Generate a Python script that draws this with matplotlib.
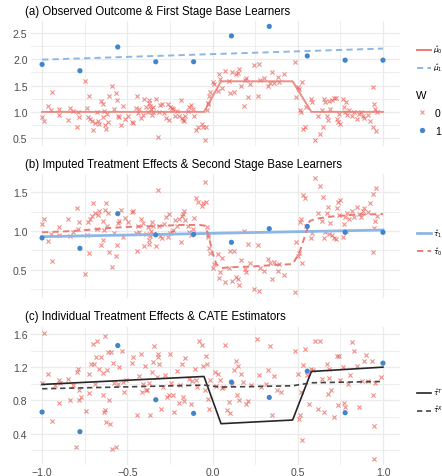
import numpy as np
import matplotlib
matplotlib.use('Agg')
import matplotlib.pyplot as plt
from matplotlib.lines import Line2D
from matplotlib.ticker import MultipleLocator

plt.rcParams['font.family'] = ['Liberation Sans', 'DejaVu Sans']
plt.rcParams['mathtext.fontset'] = 'dejavusans'

# ---------------- data ----------------
x_treated = [-1.0, -0.778, -0.556, -0.333, -0.111, 0.111, 0.333, 0.556, 0.778, 1.0]
y_treated = [1.90, 1.78, 2.23, 1.95, 1.95, 2.44, 2.62, 2.06, 1.98, 1.98]

x_control_a = [-1.00, -0.99, -0.967, -0.947, -0.943, -0.902, -0.898, -0.849, -0.839, -0.816,
               -0.797, -0.787, -0.785, -0.750, -0.738, -0.726, -0.732, -0.718, -0.707, -0.703,
               -0.687, -0.679, -0.674, -0.664, -0.654, -0.644, -0.640, -0.634, -0.629, -0.625,
               -0.621, -0.615, -0.605, -0.589, -0.576, -0.566, -0.562, -0.554, -0.546, -0.537,
               -0.527, -0.511, -0.498, -0.472, -0.464, -0.449, -0.445, -0.439, -0.429, -0.419,
               -0.410, -0.400, -0.390, -0.380, -0.374, -0.370, -0.367, -0.361, -0.355, -0.351,
               -0.347, -0.331, -0.318, -0.312, -0.306, -0.298, -0.286, -0.273, -0.263, -0.253,
               -0.249, -0.238, -0.230, -0.218, -0.208, -0.198, -0.185, -0.179, -0.175, -0.169,
               -0.159, -0.146, -0.136, -0.126, -0.116, -0.107, -0.097, -0.083, -0.062, -0.054,
               -0.042, -0.038, -0.034, -0.028, -0.024, -0.019, -0.013, 0.001, 0.011, 0.030,
               0.036, 0.044, 0.056, 0.075, 0.095, 0.103, 0.114, 0.128, 0.138, 0.147,
               0.157, 0.167, 0.183, 0.191, 0.196, 0.206, 0.220, 0.243, 0.271, 0.265,
               0.281, 0.304, 0.324, 0.337, 0.349, 0.359, 0.384, 0.392, 0.421, 0.484,
               0.490, 0.503, 0.509, 0.515, 0.519, 0.523, 0.533, 0.544, 0.548, 0.578,
               0.584, 0.603, 0.617, 0.630, 0.640, 0.646, 0.656, 0.662, 0.670, 0.676,
               0.685, 0.691, 0.699, 0.711, 0.725, 0.728, 0.734, 0.744, 0.750, 0.763,
               0.769, 0.777, 0.783, 0.789, 0.803, 0.818, 0.832, 0.848, 0.861, 0.871,
               0.881, 0.891, 0.910, 0.924, 0.939, 0.939, 0.949, 0.953, 0.959, 0.965]
y_control = [0.90, 0.83, 1.12, 1.04, 1.38, 1.05, 0.95, 0.85, 1.07, 1.02,
             0.71, 0.99, 0.90, 1.58, 1.07, 1.31, 0.90, 0.87, 0.82, 0.66,
             0.79, 1.00, 0.82, 0.77, 1.21, 0.90, 1.15, 1.02, 0.75, 0.67,
             0.96, 0.80, 1.31, 1.50, 1.06, 1.36, 1.22, 0.93, 0.91, 0.76,
             1.12, 0.87, 0.93, 0.80, 0.79, 1.08, 1.31, 0.98, 1.06, 0.89,
             0.95, 1.25, 1.09, 1.00, 1.22, 1.17, 1.12, 1.06, 0.94, 1.10,
             1.00, 1.25, 0.53, 1.00, 1.13, 1.15, 0.98, 0.88, 1.15, 0.85,
             1.10, 1.08, 1.06, 0.93, 1.01, 0.92, 1.22, 0.88, 0.85, 0.82,
             0.93, 1.02, 1.09, 1.13, 1.06, 0.92, 0.66, 0.71, 0.77, 0.72,
             0.46, 0.71, 1.04, 1.15, 1.17, 1.31, 1.38, 1.57, 1.53, 1.40,
             1.71, 1.63, 1.45, 1.77, 1.59, 1.36, 1.75, 1.37, 1.71, 1.74,
             1.81, 1.49, 1.11, 1.61, 1.65, 1.28, 1.53, 1.88, 1.90, 1.31,
             1.60, 1.64, 1.49, 1.54, 1.75, 1.54, 1.66, 1.57, 1.71, 1.94,
             1.29, 1.47, 1.43, 1.03, 1.00, 1.57, 0.68, 0.72, 1.09, 1.25,
             1.18, 0.47, 0.93, 0.58, 1.03, 0.72, 1.25, 1.18, 0.93, 0.85,
             1.20, 1.06, 1.22, 1.26, 1.27, 0.87, 0.80, 0.96, 0.77, 1.25,
             1.09, 1.00, 1.18, 0.94, 1.03, 0.92, 1.00, 0.87, 0.96, 1.00,
             0.93, 0.89, 0.94, 0.83, 1.47, 0.71, 1.15, 1.06, 0.64, 1.00]

mu0_x = [-1.0, -0.05, 0.05, 0.47, 0.58, 1.0]
mu0_y = [1.0, 1.0, 1.58, 1.58, 1.0, 1.0]
mu1_x = [-1.0, 1.0]
mu1_y = [1.99, 2.20]

# panel (b): imputed treatment effects
tau1_imputed = [0.91, 0.775, 1.225, 0.95, 0.957, 0.853, 1.03, 1.06, 0.983, 0.983]
# imputed effect of controls = mu1_hat(x) - Y(0)
tau0_imputed = np.interp(x_control_a, mu1_x, mu1_y) - np.array(y_control)
tau1_x = [-1.0, 1.0]
tau1_y = [0.926, 1.013]
tau0_x = [-1.0, -0.857, -0.74, -0.6, -0.466, -0.33, -0.19, -0.075, -0.046, -0.026,
          0.003, 0.022, 0.052, 0.12, 0.24, 0.374, 0.47, 0.51, 0.54, 0.57, 0.61, 0.707, 0.824, 1.0]
tau0_y = [0.983, 0.996, 1.013, 1.04, 1.056, 1.065, 1.078, 1.078, 1.07, 0.96,
          0.70, 0.57, 0.52, 0.53, 0.54, 0.56, 0.57, 0.72, 0.92, 1.13, 1.16, 1.19, 1.21, 1.22]

# panel (c): individual treatment effects
ite_treated = [0.66, 0.424, 1.46, 0.808, 0.644, 1.02, 0.836, 1.152, 0.652, 1.248]
x_control_c = [-1.001, -0.99, -0.967, -0.943, -0.927, -0.902, -0.898, -0.892, -0.849, -0.836,
               -0.816, -0.797, -0.787, -0.785, -0.781, -0.801, -0.771, -0.742, -0.726, -0.722,
               -0.711, -0.703, -0.693, -0.687, -0.683, -0.679, -0.668, -0.654, -0.644, -0.640,
               -0.634, -0.630, -0.629, -0.625, -0.621, -0.615, -0.605, -0.599, -0.593, -0.589,
               -0.581, -0.576, -0.566, -0.556, -0.546, -0.534, -0.527, -0.517, -0.507, -0.472,
               -0.464, -0.445, -0.429, -0.419, -0.413, -0.406, -0.396, -0.390, -0.384, -0.370,
               -0.365, -0.355, -0.347, -0.341, -0.327, -0.321, -0.318, -0.312, -0.302, -0.292,
               -0.276, -0.269, -0.257, -0.249, -0.241, -0.234, -0.224, -0.210, -0.198, -0.190,
               -0.181, -0.175, -0.165, -0.159, -0.140, -0.126, -0.120, -0.101, -0.097, -0.093,
               -0.081, -0.064, -0.054, -0.042, -0.038, -0.030, -0.028, -0.022, -0.013, 0.015,
               0.021, 0.030, 0.044, 0.056, 0.064, 0.075, 0.087, 0.099, 0.103, 0.114,
               0.128, 0.138, 0.142, 0.147, 0.157, 0.167, 0.181, 0.196, 0.206, 0.226,
               0.261, 0.271, 0.284, 0.314, 0.324, 0.337, 0.349, 0.363, 0.376, 0.402,
               0.486, 0.500, 0.506, 0.515, 0.519, 0.523, 0.529, 0.542, 0.552, 0.568,
               0.578, 0.587, 0.603, 0.617, 0.633, 0.640, 0.656, 0.670, 0.676, 0.682,
               0.685, 0.695, 0.715, 0.728, 0.734, 0.740, 0.748, 0.763, 0.769, 0.779,
               0.793, 0.807, 0.818, 0.832, 0.846, 0.861, 0.877, 0.887, 0.901, 0.910,
               0.936, 0.944, 0.949, 0.945, 0.955, 0.988]
ite_control = [1.01, 1.61, 1.12, 0.55, 0.99, 1.04, 0.77, 1.01, 1.06, 0.81,
               0.98, 1.14, 1.18, 0.92, 0.81, 0.24, 0.84, 0.67, 1.12, 0.89,
               1.24, 1.48, 1.24, 1.00, 1.32, 1.52, 1.18, 1.32, 0.86, 1.13,
               0.66, 1.58, 0.69, 0.54, 1.17, 1.38, 0.81, 0.52, 1.38, 0.22,
               1.25, 1.01, 0.24, 1.00, 1.20, 1.40, 1.02, 0.90, 1.04, 1.25,
               1.32, 0.62, 1.09, 1.36, 0.90, 1.00, 1.21, 0.92, 0.93, 1.01,
               0.62, 1.14, 1.26, 1.46, 1.08, 1.32, 1.36, 1.24, 0.70, 0.96,
               1.11, 0.84, 0.87, 1.36, 1.01, 0.87, 0.66, 1.15, 0.77, 0.99,
               1.24, 0.84, 0.79, 1.31, 1.06, 0.76, 1.03, 1.18, 1.04, 0.96,
               1.52, 1.47, 1.21, 0.92, 1.34, 1.24, 0.82, 0.70, 1.04, 1.14,
               0.97, 1.12, 1.05, 0.95, 0.96, 1.47, 0.68, 0.78, 0.65, 1.00,
               1.16, 1.28, 0.86, 1.21, 0.80, 1.12, 1.02, 0.76, 0.79, 0.98,
               1.54, 1.10, 0.96, 1.00, 1.16, 1.45, 0.62, 1.09, 0.92, 0.90,
               1.40, 1.12, 0.58, 0.62, 0.90, 0.32, 1.23, 1.42, 1.11, 0.76,
               1.18, 1.16, 1.52, 0.70, 1.52, 1.06, 0.66, 1.24, 0.88, 1.18,
               1.07, 0.92, 0.60, 1.34, 0.74, 1.34, 1.04, 1.20, 0.77, 0.72,
               1.00, 1.11, 1.50, 1.40, 1.21, 0.72, 1.03, 1.27, 1.35, 1.03,
               1.27, 0.87, 0.49, 0.10, 1.01, 1.08]
tauT_x = [-1.0, -0.05, 0.05, 0.47, 0.58, 1.0]
tauT_y = [0.992, 1.088, 0.52, 0.564, 1.148, 1.20]
tauX_x = [-1.0, -0.05, 0.05, 0.47, 0.58, 1.0]
tauX_y = [0.94, 0.984, 0.96, 0.976, 1.012, 1.028]

# ---------------- style ----------------
RED = '#E8544C'
RED_LINE = '#EC7A74'
BLUE = '#3F86CE'
BLUE_LINE = '#8FB7E3'
GRID = '#EBEBEB'
TICK = '#4D4D4D'

W, H = 442, 477
fig = plt.figure(figsize=(W / 100, H / 100), dpi=100)

XL = (-1.065, 1.1)

def make_ax(top, bottom, ylim, major, show_x):
    left, right = 31, 400
    ax = fig.add_axes([left / W, 1 - bottom / H, (right - left) / W, (bottom - top) / H])
    ax.set_xlim(*XL)
    ax.set_ylim(*ylim)
    for s in ax.spines.values():
        s.set_visible(False)
    ax.set_facecolor('none')
    ax.xaxis.set_major_locator(MultipleLocator(0.5))
    ax.xaxis.set_minor_locator(MultipleLocator(0.25))
    ax.yaxis.set_major_locator(MultipleLocator(major))
    ax.yaxis.set_minor_locator(MultipleLocator(major / 2))
    ax.grid(True, which='major', color=GRID, lw=0.9)
    ax.grid(True, which='minor', color=GRID, lw=0.6)
    ax.set_axisbelow(True)
    ax.tick_params(which='both', length=0, labelsize=7.6, labelcolor=TICK, pad=2.5)
    ax.yaxis.set_major_formatter(matplotlib.ticker.FuncFormatter(lambda v, p: f'{v:.1f}'))
    if show_x:
        ax.xaxis.set_major_formatter(matplotlib.ticker.FuncFormatter(
            lambda v, p: f'{v:.1f}'.replace('-', '\u2212')))
    else:
        ax.tick_params(axis='x', labelbottom=False)
    return ax

def title(y, txt):
    fig.text(25 / W, 1 - y / H, txt, fontsize=8.3, va='center', ha='left', color='black')

mk_x = dict(marker='x', s=9, linewidths=0.8, color=RED, alpha=0.65, zorder=2)
mk_o = dict(marker='o', s=14, color=BLUE, edgecolors='none', zorder=4)

# panel (a)
ax1 = make_ax(21.6, 147.2, (0.35, 2.73), 0.5, False)
ax1.scatter(x_control_a, y_control, **mk_x)
ax1.plot(mu0_x, mu0_y, color=RED_LINE, lw=1.4, alpha=0.85, zorder=3)
ax1.plot(mu1_x, mu1_y, color=BLUE_LINE, lw=1.4, ls=(0, (3.2, 2.2)), zorder=3)
ax1.scatter(x_treated, y_treated, **mk_o)
title(11.7, '(a) Observed Outcome & First Stage Base Learners')

# panel (b)
ax2 = make_ax(175, 299, (0.13, 1.74), 0.5, False)
ax2.scatter(x_control_a, tau0_imputed, **mk_x)
ax2.plot(tau1_x, tau1_y, color=BLUE_LINE, lw=2.0, zorder=3)
ax2.plot(tau0_x, tau0_y, color=RED_LINE, lw=1.4, ls=(0, (3.2, 2.2)), zorder=3)
ax2.scatter(x_treated, tau1_imputed, **mk_o)
title(165, '(b) Imputed Treatment Effects & Second Stage Base Learners')

# panel (c)
ax3 = make_ax(328, 465.5, (0.029, 1.683), 0.4, True)
ax3.scatter(x_control_c, ite_control, **mk_x)
ax3.plot(tauT_x, tauT_y, color='#262626', lw=1.2, zorder=3)
ax3.plot(tauX_x, tauX_y, color='#444444', lw=1.2, ls=(0, (3.2, 2.2)), zorder=3)
ax3.scatter(x_treated, ite_treated, **mk_o)
ax3.tick_params(axis='x', pad=1.5)
title(316.7, '(c) Individual Treatment Effects & CATE Estimators')

# ---------------- legends ----------------
leg_kw = dict(frameon=False, fontsize=5.2, handlelength=2.0, handletextpad=0.25,
              labelspacing=0.9, borderaxespad=0, borderpad=0, loc='center left')

def add_leg(handles, labels, y, x=417, **extra):
    kw = dict(leg_kw)
    kw.update(extra)
    lg = fig.legend(handles, labels, bbox_to_anchor=(x / W, 1 - y / H), **kw)
    return lg

add_leg([Line2D([], [], color=RED_LINE, lw=1.4),
         Line2D([], [], color=BLUE_LINE, lw=1.4, ls=(0, (3.2, 2.2)))],
        [r'$\hat{\mu}_0$', r'$\hat{\mu}_1$'], 59.5)

lgW = add_leg([Line2D([], [], ls='none', marker='x', ms=3.2, mew=0.8, color=RED, alpha=0.65),
               Line2D([], [], ls='none', marker='o', ms=3.8, color=BLUE, mec='none')],
              ['0', '1'], 114, x=416, title='W', title_fontsize=8, handlelength=1.2,
              handletextpad=0.6, labelspacing=0.75, fontsize=7.5)
lgW._legend_box.align = 'left'

add_leg([Line2D([], [], color=BLUE_LINE, lw=2.0),
         Line2D([], [], color=RED_LINE, lw=1.4, ls=(0, (3.2, 2.2)))],
        [r'$\hat{\tau}_1$', r'$\hat{\tau}_0$'], 243)

add_leg([Line2D([], [], color='#262626', lw=1.2),
         Line2D([], [], color='#444444', lw=1.2, ls=(0, (3.2, 2.2)))],
        [r'$\hat{\tau}^T$', r'$\hat{\tau}^X$'], 402)

fig.savefig('out.png', dpi=100)
